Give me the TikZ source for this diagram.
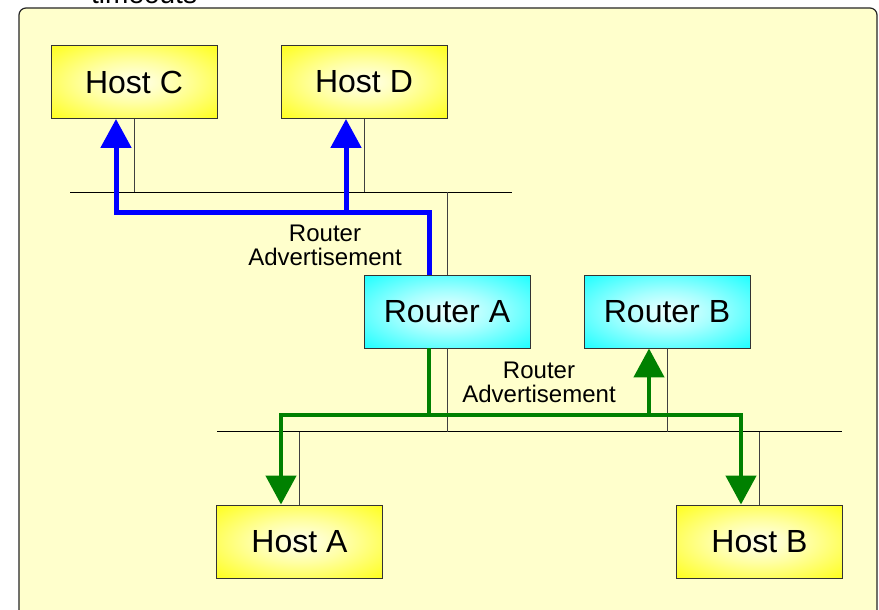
\documentclass[tikz,border=0pt]{standalone}
\usepackage{fontspec}
\setmainfont{Liberation Sans}
\usetikzlibrary{arrows.meta}

\definecolor{paper}{HTML}{FFFFCC}
\definecolor{wireblue}{HTML}{0000FF}
\definecolor{wiregreen}{HTML}{008000}
\definecolor{edge}{HTML}{333333}

% pale centre fading out to a saturated rim
\pgfdeclareradialshading{hostfill}{\pgfpoint{0bp}{0bp}}{%
  color(0bp)=(yellow!6!white); color(14bp)=(yellow!35!white);
  color(40bp)=(yellow); color(100bp)=(yellow)}
\pgfdeclareradialshading{routerfill}{\pgfpoint{0bp}{0bp}}{%
  color(0bp)=(cyan!6!white); color(14bp)=(cyan!35!white);
  color(40bp)=(cyan); color(100bp)=(cyan)}

\tikzset{
  hostbox/.style={draw=edge, line width=0.9pt, shade, shading=hostfill,
    minimum width=166pt, minimum height=73pt, inner sep=0pt,
    font=\fontsize{32}{36}\selectfont},
  routerbox/.style={hostbox, shading=routerfill},
  lan/.style={draw=black, line width=1pt},
  tap/.style={draw=black!75, line width=1pt},
  bluewire/.style={draw=wireblue, line width=5pt, line join=miter},
  greenwire/.style={draw=wiregreen, line width=4.6pt, line join=miter},
  note/.style={align=center, inner sep=0pt, font=\fontsize{24}{24}\selectfont},
  frame/.style={fill=paper, draw=black!85, line width=1.2pt, rounded corners=7pt},
}

\begin{document}
\begin{tikzpicture}[x=1pt, y=-1pt, >={Triangle[width=30pt,length=29pt]}]
\useasboundingbox (0,0) rectangle (879,610);
\fill[white] (0,0) rectangle (879,610);

% slide panel and the tail of the line above it
\draw[frame] (19,8) rectangle (877,650);
\node[anchor=base west, inner sep=0pt, font=\fontsize{28}{32}\selectfont] (caption) at (91,3.5) {timeouts};

% hosts and routers
\node[hostbox]   (hc) at (134,82)      {Host C};
\node[hostbox]   (hd) at (364,82)      {Host D};
\node[routerbox] (ra) at (447,311.5)   {Router A};
\node[routerbox] (rb) at (667,311.5)   {Router B};
\node[hostbox]   (ha) at (299.5,541.5) {Host A};
\node[hostbox]   (hb) at (759.5,541.5) {Host B};

% the two LAN segments
\coordinate (upL) at (70,192);
\coordinate (upR) at (512,192);
\coordinate (loL) at (217,431.5);
\coordinate (loR) at (842,431.5);
\draw[lan] (upL) -- (upR);
\draw[lan] (loL) -- (loR);

% attachments to the segments
\draw[tap] (hc.south) -- (hc.south |- upL);
\draw[tap] (hd.south) -- (hd.south |- upL);
\draw[tap] (ra.north) -- (ra.north |- upL);
\draw[tap] (ra.south) -- (ra.south |- loL);
\draw[tap] (rb.south) -- (rb.south |- loL);
\draw[tap] (ha.north) -- (ha.north |- loL);
\draw[tap] (hb.north) -- (hb.north |- loL);

% advertisement paths
\coordinate (raT) at ([xshift=-18pt]ra.north);
\coordinate (raB) at ([xshift=-18pt]ra.south);
\coordinate (rbB) at ([xshift=-18pt]rb.south);
\coordinate (hcB) at ([xshift=-18pt]hc.south);
\coordinate (hdB) at ([xshift=-18pt]hd.south);
\coordinate (haT) at ([xshift=-18.5pt]ha.north);
\coordinate (hbT) at ([xshift=-18.5pt]hb.north);
\coordinate (bbus) at (0,212);
\coordinate (gbus) at (0,415);

\draw[bluewire, ->] (raT) |- (hcB |- bbus) -- (hcB);
\draw[bluewire, ->] (hdB |- bbus) -- (hdB);

\draw[greenwire] (raB) -- (raB |- gbus);
\draw[greenwire, <->] (haT) -- (haT |- gbus) -- (hbT |- gbus) -- (hbT);
\draw[greenwire, ->] (rbB |- gbus) -- (rbB);

% labels
\node[note] (adv1) at (325,245)   {Router\\Advertisement};
\node[note] (adv2) at (539,382.5) {Router\\Advertisement};
\end{tikzpicture}
\end{document}
